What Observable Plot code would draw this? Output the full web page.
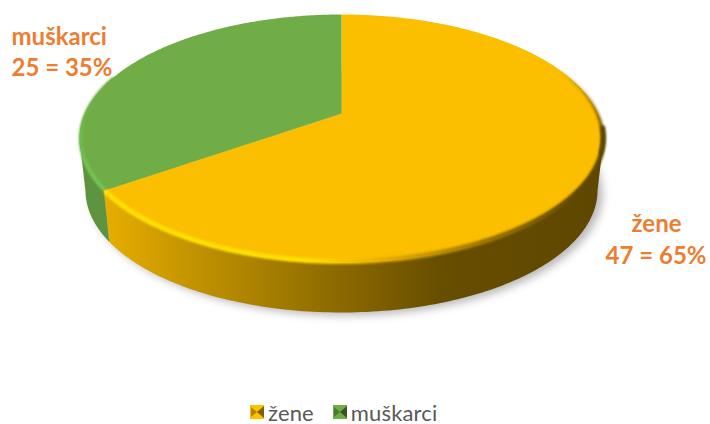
<!DOCTYPE html>
<html>
<head>
<meta charset="utf-8">
<script src="https://cdn.jsdelivr.net/npm/d3@7"></script>
<script src="https://cdn.jsdelivr.net/npm/@observablehq/plot@0.6"></script>
<style>
html,body{margin:0;padding:0;background:#fff;overflow:hidden}
#legend{height:24px;display:flex;justify-content:flex-start;align-items:center;padding-left:250px;font:22px Lato,sans-serif;color:#595959;letter-spacing:.15px}
#legend span{display:inline-flex;align-items:center;margin-right:19px}
#legend svg{margin-right:4px}
</style>
</head>
<body>
<div id="chart"></div>
<div id="legend"></div>
<script>
const categories = ["žene", "muškarci"];
const counts = [47, 25];
const percents = ["65%", "35%"];
const topColors = ["#fbbf00", "#70ad47"];
const legendLight = ["#ffc000", "#70ad47"];
const legendDark = ["#7f6000", "#375623"];

const W = 710, H = 400, CX = 341, CY = 138;
const RX = 262, RY = 124, APEX = 25, DEPTH = 52;
const BRX = 256, BRY = 122;

const p = (RY + APEX) / RY - 1, a = RX * Math.sqrt(1 - p * p);
const total = d3.sum(counts);
const split = counts[0] / total;

function disc(t) {
  const th = 2 * Math.PI * t, u = Math.sin(th), v = Math.cos(th), w = 1 + p * v;
  return {x: a * u / w, y: (RY * v + APEX) / w};
}
const low = (d) => ({x: d.x * BRX / RX, y: d.y * BRY / RY - DEPTH});
const arc = (t0, t1) => d3.range(0, 241).map((i) => disc(t0 + (t1 - t0) * i / 240));
const wall = (pts) => {
  const f = pts.filter((d) => d.y <= 0);
  return [...f, ...f.map(low).reverse()];
};

const yellowRim = arc(0, split), greenRim = arc(split, 1);
const centre = {x: 0, y: APEX};
const bottom = arc(0, 1).map(low);
const inset = (pts, k, dy) => pts.map((d) => ({x: d.x * k, y: d.y * k + dy}));
const label = {fontSize: 24, fontWeight: 700, fontFamily: "Lato", fill: "#ed7d31"};

const chart = Plot.plot({
  width: W, height: H, margin: 0,
  x: {domain: [-CX, W - CX], range: [0, W], axis: null},
  y: {domain: [CY, CY - H], range: [0, H], axis: null},
  marks: [
    Plot.line(bottom.map((d) => ({x: d.x + 5, y: d.y - 3})), {x: "x", y: "y", fill: "#000", fillOpacity: 0.28, stroke: "none", imageFilter: "blur(4px)"}),
    Plot.line(wall(yellowRim), {x: "x", y: "y", fill: "url(#wallY)", stroke: "none"}),
    Plot.line(wall(greenRim), {x: "x", y: "y", fill: "#5e9440", stroke: "none"}),
    Plot.line([centre, ...yellowRim], {x: "x", y: "y", fill: topColors[0], stroke: "none"}),
    Plot.line([centre, ...greenRim], {x: "x", y: "y", fill: topColors[1], stroke: "none"}),
    Plot.line(inset(arc(0.15, 0.3), 0.997, 0), {x: "x", y: "y", stroke: "url(#rimD)", strokeWidth: 4, imageFilter: "blur(.9px)", fill: "none"}),
    Plot.line(inset(arc(0.27, split - 0.003), 1, 1), {x: "x", y: "y", stroke: "url(#rimY)", strokeWidth: 5, imageFilter: "blur(1.3px)", fill: "none"}),
    Plot.line(inset(arc(split + 0.003, 0.8), 0.995, 0), {x: "x", y: "y", stroke: "url(#rimG)", strokeWidth: 4, imageFilter: "blur(.8px)", fill: "none"}),
    Plot.text([`${categories[1]}\n${counts[1]} = ${percents[1]}`], {...label, frameAnchor: "top-left", dx: 11, dy: 22, textAnchor: "start", lineHeight: 1.3}),
    Plot.text([categories[0]], {...label, frameAnchor: "top-right", dx: -29, dy: 214, textAnchor: "end"}),
    Plot.text([`${counts[0]} = ${percents[0]}`], {...label, frameAnchor: "top-right", dx: -4, dy: 246, textAnchor: "end"})
  ]
});
chart.insertAdjacentHTML("afterbegin", `<defs>
<linearGradient id="wallY" gradientUnits="userSpaceOnUse" x1="107" x2="600" y1="0" y2="0">
<stop offset="0" stop-color="#e6ad00"/><stop offset=".2" stop-color="#bd8f00"/><stop offset=".45" stop-color="#8f6c00"/><stop offset=".68" stop-color="#664d00"/><stop offset="1" stop-color="#5f4700"/>
</linearGradient>
<linearGradient id="rimY" gradientUnits="userSpaceOnUse" x1="107" x2="602" y1="0" y2="0">
<stop offset="0" stop-color="#ffe100"/><stop offset=".4" stop-color="#ffe000"/><stop offset=".55" stop-color="#e8b000"/><stop offset=".75" stop-color="#9d7700"/><stop offset=".95" stop-color="#5f4700"/><stop offset="1" stop-color="#5f4700"/>
</linearGradient>
<linearGradient id="rimD" gradientUnits="userSpaceOnUse" x1="0" x2="0" y1="70" y2="150">
<stop offset="0" stop-color="#5f4700" stop-opacity="0"/><stop offset=".55" stop-color="#5f4700" stop-opacity=".55"/><stop offset="1" stop-color="#5f4700"/>
</linearGradient>
<linearGradient id="rimG" gradientUnits="userSpaceOnUse" x1="0" x2="0" y1="90" y2="190">
<stop offset="0" stop-color="#70ad47"/><stop offset="1" stop-color="#74c653"/>
</linearGradient>
</defs>`);
document.getElementById("chart").append(chart);

const legend = d3.select("#legend");
categories.forEach((c, i) => {
  const s = legend.append("span");
  s.append("svg").attr("width", 14).attr("height", 14).html(
    `<rect width="14" height="14" fill="${legendLight[i]}"/>` +
    `<path d="M1 2L7 7L1 12Z" fill="${legendDark[i]}" opacity=".6"/><path d="M14 1L7 7L14 13Z" fill="${legendDark[i]}"/>`);
  s.node().append(c);
});
</script>
</body>
</html>
